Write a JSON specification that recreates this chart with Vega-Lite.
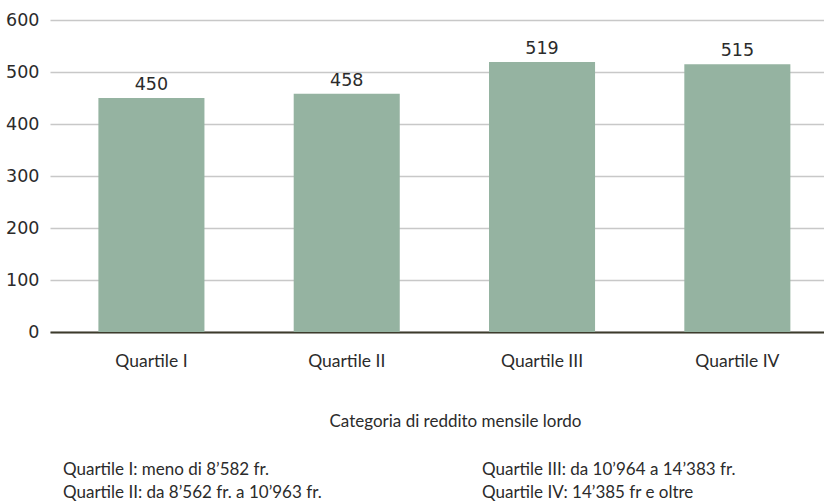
{
  "$schema": "https://vega.github.io/schema/vega-lite/v6.json",
  "padding": {"left": 5, "top": 11, "right": 0, "bottom": 0},
  "background": "white",
  "config": {
    "view": {"stroke": null},
    "font": "Liberation Sans",
    "concat": {"spacing": 31}
  },
  "vconcat": [
    {
      "width": 774,
      "height": 312,
      "data": {"values": [
        {"quartile": "Quartile I", "value": 450},
        {"quartile": "Quartile II", "value": 458},
        {"quartile": "Quartile III", "value": 519},
        {"quartile": "Quartile IV", "value": 515}
      ]},
      "encoding": {
        "x": {
          "field": "quartile", "type": "nominal", "sort": null,
          "scale": {"paddingInner": 0.457, "paddingOuter": 0.21, "align": 0.59},
          "axis": {
            "title": "Categoria di reddito mensile lordo",
            "titleFont": "Lato", "titleFontSize": 17, "titleFontWeight": "normal", "titleColor": "#2b2b2b",
            "titlePadding": 44, "titleX": 405,
            "labelFont": "Lato", "labelFontSize": 17.5, "labelColor": "#2b2b2b", "labelAngle": 0,
            "labelPadding": 20, "ticks": false,
            "domainColor": "#3d3b2c", "domainWidth": 2, "grid": false
          }
        },
        "y": {
          "field": "value", "type": "quantitative",
          "scale": {"domain": [0, 600]},
          "axis": {
            "title": null, "values": [0, 100, 200, 300, 400, 500, 600],
            "labelFont": "DejaVu Sans", "labelFontSize": 17.5, "labelColor": "#2b2b2b",
            "labelPadding": 11, "ticks": false, "domain": false,
            "gridColor": "#c8c8c8", "gridWidth": 1.5
          }
        }
      },
      "layer": [
        {"mark": {"type": "bar", "color": "#95b3a1"}},
        {
          "mark": {"type": "text", "baseline": "alphabetic", "dy": -8, "fontSize": 17.5, "color": "#2b2b2b", "font": "DejaVu Sans"},
          "encoding": {"text": {"field": "value", "type": "quantitative"}}
        }
      ]
    },
    {
      "width": 774,
      "height": 23,
      "data": {"values": [
        {"col": "left", "row": 1, "note": "Quartile I: meno di 8’582 fr."},
        {"col": "left", "row": 2, "note": "Quartile II: da 8’562 fr. a 10’963 fr."},
        {"col": "right", "row": 1, "note": "Quartile III: da 10’964 a 14’383 fr."},
        {"col": "right", "row": 2, "note": "Quartile IV: 14’385 fr e oltre"}
      ]},
      "mark": {"type": "text", "align": "left", "baseline": "alphabetic", "font": "Lato", "fontSize": 17, "color": "#2b2b2b"},
      "encoding": {
        "x": {"field": "col", "type": "nominal", "scale": {"type": "point", "domain": ["left", "right"], "range": [13, 432], "padding": 0}, "axis": null},
        "y": {"field": "row", "type": "ordinal", "scale": {"type": "point", "domain": [1, 2], "range": [0, 23], "padding": 0}, "axis": null},
        "text": {"field": "note", "type": "nominal"}
      }
    }
  ]
}
